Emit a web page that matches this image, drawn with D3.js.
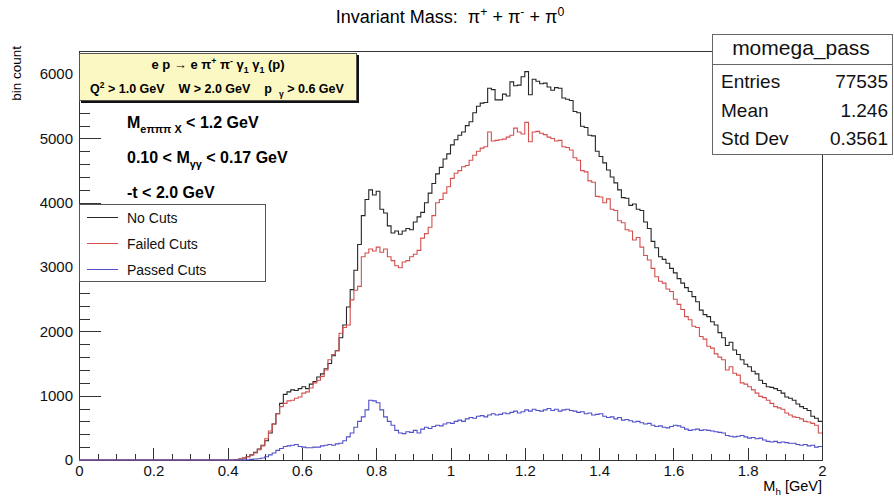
<!DOCTYPE html>
<html>
<head>
<meta charset="utf-8">
<script src="https://cdn.jsdelivr.net/npm/d3@7"></script>
<style>
  body { margin: 0; background: #fff; }
  text { font-family: "Liberation Sans", Arial, sans-serif; white-space: pre; }
</style>
</head>
<body>
<div id="chart"></div>
<script>
var w = 894,
	h = 500;

// bins of 0.01 GeV, first bin starts at 0.40 (everything below is empty)
var binStart = 0.40;
var binWidth = 0.01;

// No Cuts (black)
var noCuts = [
  0, 0, 5, 15, 30, 50, 80, 120, 170, 230,
  300, 420, 560, 720, 880, 1020, 1060, 1090, 1080, 1110,
  1140, 1110, 1180, 1220, 1290, 1340, 1420, 1500, 1620, 1700,
  1900, 2100, 2380, 2650, 2950, 3350, 3800, 4050, 4200, 4120,
  4180, 3900, 3840, 3640, 3530, 3560, 3510, 3560, 3600, 3580,
  3700, 3780, 3850, 4000, 4150, 4300, 4450, 4550, 4680, 4760,
  4900, 4980, 5050, 5100, 5200, 5260, 5400, 5500, 5550, 5560,
  5780, 5760, 5600, 5600, 5690, 5660, 5880, 5820, 5830, 5960,
  6040, 5680, 5920, 5890, 5850, 5860, 5800, 5750, 5790, 5780,
  5630, 5610, 5590, 5420, 5400, 5190, 5170, 5050, 5040, 4800,
  4720, 4620, 4510, 4400, 4310, 4200, 4080, 4070, 3960, 3980,
  3900, 3880, 3700, 3600, 3400, 3300, 3160, 3120, 3060, 2980,
  2910, 2820, 2750, 2680, 2620, 2540, 2460, 2330, 2260, 2230,
  2150, 2100, 1980, 1900, 1780, 1830, 1710, 1640, 1560, 1490,
  1450, 1380, 1340, 1240, 1190, 1140, 1130, 1110, 1080, 1040,
  980, 960, 930, 870, 830, 800, 770, 680, 650, 600
];

// Failed Cuts (red)
var failedCuts = [
  0, 0, 5, 15, 30, 50, 80, 110, 160, 220,
  330, 450, 560, 720, 830, 880, 920, 930, 960, 980,
  1040, 1060, 1120, 1200, 1240, 1300, 1400, 1560, 1640, 1700,
  1970, 2060, 2100, 2490, 2640, 2700, 3160, 3220, 3280, 3250,
  3310, 3230, 3280, 3160, 3100, 3020, 2990, 3080, 3100, 3160,
  3200, 3260, 3450, 3520, 3620, 3800, 4000, 4050, 4150, 4250,
  4380, 4460, 4500, 4560, 4580, 4660, 4740, 4800, 4850, 4870,
  5100, 4960, 4970, 4980, 4990, 5020, 5050, 5160, 5100, 5070,
  5250, 4950, 5100, 5110, 5080, 5060, 5020, 5000, 4960, 4970,
  4870, 4860, 4820, 4700, 4660, 4500, 4480, 4340, 4320, 4100,
  4090, 4000, 4060, 3900, 3880, 3720, 3690, 3580, 3560, 3420,
  3460, 3310, 3180, 3110, 2980, 2850, 2780, 2750, 2660, 2620,
  2500, 2420, 2340, 2230, 2180, 2080, 2060, 1920, 1880, 1770,
  1740, 1650, 1600, 1560, 1400, 1450, 1350, 1320, 1200, 1180,
  1140, 1090, 1040, 990, 970, 930, 880, 830, 810, 790,
  730, 700, 670, 660, 640, 600, 590, 570, 540, 420
];

// Passed Cuts (blue)
var passedCuts = [
  0, 0, 0, 0, 2, 5, 10, 15, 20, 30,
  50, 80, 110, 150, 180, 210, 220, 230, 240, 210,
  200, 190, 190, 200, 200, 220, 230, 240, 230, 250,
  260, 300, 360, 420, 510, 600, 670, 780, 930, 920,
  890, 780, 670, 600, 540, 460, 420, 410, 440, 430,
  460, 420, 480, 510, 490, 520, 540, 530, 560, 580,
  570, 600, 620, 600, 640, 660, 650, 680, 690, 670,
  700, 720, 700, 710, 730, 720, 740, 760, 730, 750,
  780, 760, 790, 770, 760, 780, 800, 770, 790, 760,
  780, 790, 770, 760, 740, 750, 720, 730, 700, 710,
  720, 680, 660, 670, 640, 660, 620, 630, 610, 590,
  600, 580, 560, 570, 540, 520, 530, 510, 500, 520,
  540, 530, 510, 480, 460, 470, 480, 460, 470, 460,
  450, 440, 430, 420, 380, 370, 360, 370, 380, 360,
  340, 350, 330, 340, 310, 290, 280, 290, 270, 280,
  270, 260, 260, 240, 230, 240, 220, 230, 200, 210
];

var xTicks = [0, 0.2, 0.4, 0.6, 0.8, 1, 1.2, 1.4, 1.6, 1.8, 2];
var yTicks = [0, 1000, 2000, 3000, 4000, 5000, 6000];

var legendLabels = ['No Cuts', 'Failed Cuts', 'Passed Cuts'];
var lineColors = ['#262626', '#d4504f', '#5050c8'];

var statsTitle = 'momega_pass';
var statsNames = ['Entries', 'Mean', 'Std Dev'];
var statsValues = ['77535', '1.246', '0.3561'];

var svg = d3.select('#chart')
	.append('svg')
	.attr('width', w)
	.attr('height', h);

var x = d3.scaleLinear().domain([0, 2]).range([79, 822]);
var y = d3.scaleLinear().domain([0, 6360]).range([460, 51]);

// writes text made of normal / sub / sup pieces
function richText(sel, px, py, parts, size, anchor, weight) {
	var t = sel.append('text')
		.attr('x', px)
		.attr('y', py)
		.attr('font-size', size + 'px')
		.attr('font-weight', weight || 'normal')
		.attr('text-anchor', anchor || 'start')
		.attr('fill', '#000');
	var shift = 0;
	parts.forEach(function(p) {
		var want = p[1] == 'sub' ? size * 0.3 : (p[1] == 'sup' ? -size * 0.38 : 0);
		t.append('tspan')
			.attr('dy', want - shift)
			.attr('font-size', (p[1] ? size * 0.68 : size) + 'px')
			.text(p[0]);
		shift = want;
	});
	return t;
}

//Frame
svg.append('rect')
	.attr('x', x(0))
	.attr('y', y(6360))
	.attr('width', x(2) - x(0))
	.attr('height', y(0) - y(6360))
	.attr('fill', 'none')
	.attr('stroke', '#333')
	.attr('stroke-width', 1)
	.attr('shape-rendering', 'crispEdges');

//Axes
var xAxis = svg.append('g')
	.attr('transform', 'translate(0,' + y(0) + ')')
	.call(d3.axisBottom(x).tickValues(xTicks).tickSizeInner(-12).tickSizeOuter(0).tickPadding(5)
		.tickFormat(function(d) { return d3.format('~g')(d); }));
svg.append('g')
	.attr('transform', 'translate(0,' + y(0) + ')')
	.call(d3.axisBottom(x).tickValues(d3.range(0, 2.001, 0.05)).tickSizeInner(-6).tickSizeOuter(0).tickFormat(''))
	.select('.domain').remove();

var yAxis = svg.append('g')
	.attr('transform', 'translate(' + x(0) + ',0)')
	.call(d3.axisLeft(y).tickValues(yTicks).tickSizeInner(-22).tickSizeOuter(0).tickPadding(6)
		.tickFormat(d3.format('d')));
svg.append('g')
	.attr('transform', 'translate(' + x(0) + ',0)')
	.call(d3.axisLeft(y).tickValues(d3.range(0, 6300, 200)).tickSizeInner(-11).tickSizeOuter(0).tickFormat(''))
	.select('.domain').remove();

svg.selectAll('.tick line, .domain')
	.attr('stroke', '#333')
	.attr('shape-rendering', 'crispEdges');
svg.selectAll('.tick text')
	.attr('font-family', '"Liberation Sans", Arial, sans-serif')
	.attr('font-size', '15px')
	.attr('fill', '#111');

//Histograms as steps
var step = d3.line()
	.x(function(d) { return x(d[0]); })
	.y(function(d) { return y(d[1]); })
	.curve(d3.curveStepAfter);

function stepPoints(vals) {
	var pts = [[0, 0]];
	vals.forEach(function(v, i) { pts.push([binStart + i * binWidth, v]); });
	pts.push([binStart + vals.length * binWidth, vals[vals.length - 1]]);
	return pts;
}

[noCuts, failedCuts, passedCuts].forEach(function(vals, i) {
	svg.append('path')
		.attr('d', step(stepPoints(vals)))
		.attr('fill', 'none')
		.attr('stroke', lineColors[i])
		.attr('stroke-width', 1.1);
});

//Title
richText(svg, 450, 23, [
	['Invariant Mass:  \u03c0'], ['+', 'sup'], [' + \u03c0'], ['-', 'sup'], [' + \u03c0'], ['0', 'sup']
], 18, 'middle');

//Axis titles
richText(svg, 822, 491, [['M'], ['h', 'sub'], [' [GeV]']], 14.5, 'end');
svg.append('text')
	.attr('transform', 'translate(21,46) rotate(-90)')
	.attr('text-anchor', 'end')
	.attr('font-size', '13.5px')
	.attr('fill', '#000')
	.text('bin count');

//Yellow info box
svg.append('rect')
	.attr('x', 81).attr('y', 55)
	.attr('width', 278).attr('height', 48)
	.attr('fill', '#111');
svg.append('rect')
	.attr('x', 79.5).attr('y', 53.5)
	.attr('width', 277).attr('height', 47)
	.attr('fill', '#fbf8c4')
	.attr('stroke', '#555')
	.attr('stroke-width', 1);
richText(svg, 218, 69, [
	['e p \u2192 e \u03c0'], ['+', 'sup'], [' \u03c0'], ['-', 'sup'], [' \u03b3'], ['1', 'sub'],
	[' \u03b3'], ['1', 'sub'], [' (p)']
], 13, 'middle', 'bold');
richText(svg, 90, 93, [
	['Q'], ['2', 'sup'], [' > 1.0 GeV    W > 2.0 GeV    p'], ['   \u03b3', 'sub'], [' > 0.6 GeV']
], 12.5, 'start', 'bold');

//Cut lines
richText(svg, 127, 128, [['M'], ['e\u03c0\u03c0\u03c0 X', 'sub'], [' < 1.2 GeV']], 16, 'start', 'bold');
richText(svg, 127, 163, [['0.10 < M'], ['\u03b3\u03b3', 'sub'], [' < 0.17 GeV']], 16, 'start', 'bold');
richText(svg, 127, 198, [['-t < 2.0 GeV']], 16, 'start', 'bold');

//Legend
var legend = svg.append('g').attr('class', 'legend');
legend.append('rect')
	.attr('x', 79.5).attr('y', 204.5)
	.attr('width', 186).attr('height', 77)
	.attr('fill', '#fff')
	.attr('stroke', '#555');
legend.selectAll('line')
	.data(legendLabels)
	.enter()
	.append('line')
	.attr('x1', 87).attr('x2', 118)
	.attr('y1', function(d, i) { return 217.5 + i * 26; })
	.attr('y2', function(d, i) { return 217.5 + i * 26; })
	.attr('stroke', function(d, i) { return lineColors[i]; });
legend.selectAll('text')
	.data(legendLabels)
	.enter()
	.append('text')
	.attr('x', 127)
	.attr('y', function(d, i) { return 222.5 + i * 26; })
	.attr('font-size', '14px')
	.attr('fill', '#111')
	.text(function(d) { return d; });

//Stats box
var stats = svg.append('g').attr('class', 'stats');
stats.append('rect')
	.attr('x', 712.5).attr('y', 34.5)
	.attr('width', 180).attr('height', 120)
	.attr('fill', '#fff')
	.attr('stroke', '#666');
stats.append('line')
	.attr('x1', 712.5).attr('x2', 892.5)
	.attr('y1', 64.5).attr('y2', 64.5)
	.attr('stroke', '#666');
stats.append('text')
	.attr('x', 801).attr('y', 55)
	.attr('text-anchor', 'middle')
	.attr('font-size', '21px')
	.attr('fill', '#111')
	.text(statsTitle);
stats.selectAll('text.name')
	.data(statsNames)
	.enter()
	.append('text')
	.attr('class', 'name')
	.attr('x', 721)
	.attr('y', function(d, i) { return 88 + i * 28.5; })
	.attr('font-size', '19px')
	.attr('fill', '#111')
	.text(function(d) { return d; });
stats.selectAll('text.val')
	.data(statsValues)
	.enter()
	.append('text')
	.attr('class', 'val')
	.attr('x', 888)
	.attr('y', function(d, i) { return 88 + i * 28.5; })
	.attr('text-anchor', 'end')
	.attr('font-size', '19px')
	.attr('fill', '#111')
	.text(function(d) { return d; });
</script>
</body>
</html>
